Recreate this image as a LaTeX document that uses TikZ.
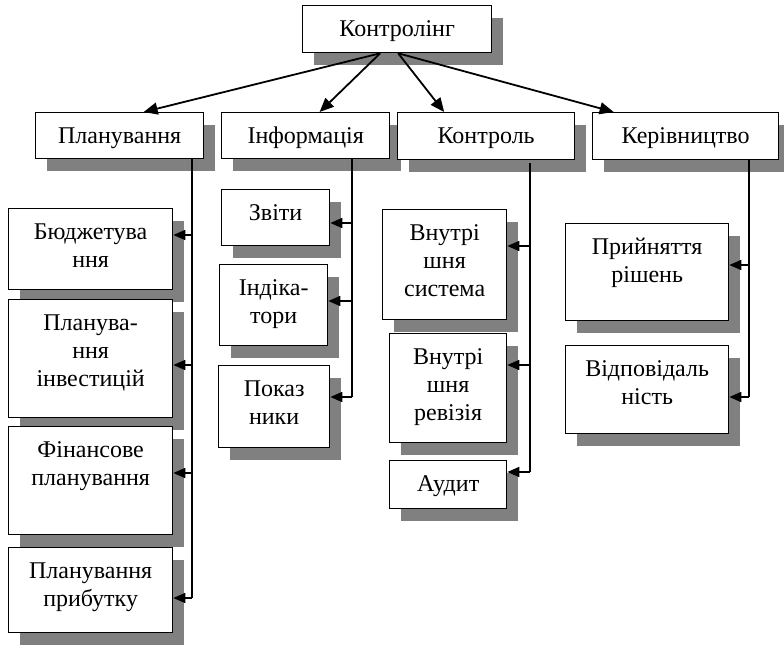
\documentclass[tikz,border=0pt]{standalone}
\usepackage{fontspec}
\setmainfont{Liberation Serif}
\newfontfamily\boxfont{Liberation Serif}
\usetikzlibrary{arrows.meta}
\tikzset{
  boxst/.style={draw=black, line width=1.3pt, fill=white, inner sep=0pt, anchor=north west},
  shadowst/.style={fill=black!50},
  conn/.style={line width=1.6pt},
  arr/.style={line width=1.6pt, -{Triangle[length=12pt,width=10pt]}},
  toparr/.style={line width=1.8pt, -{Triangle[length=14pt,width=12pt]}},
}
\newcommand\mybox[6]{%
  \fill[shadowst] (#2+12,#3+13) rectangle (#4+12,#5+13);
  \node[boxst] (#1) at (#2,#3)
    {\parbox[c][\dimexpr#5pt-#3pt\relax][t]{\dimexpr#4pt-#2pt\relax}{\boxfont\fontsize{24}{28}\selectfont\centering\rule{0pt}{31pt}#6\par}};
}
\begin{document}
\begin{tikzpicture}[x=1pt,y=-1pt]
\useasboundingbox (0,0) rectangle (784,652);
% boxes
\mybox{ctrl}{302}{5}{491}{52}{Контролінг}
\mybox{plan}{35}{112}{203}{158}{Планування}
\mybox{info}{221}{112}{389}{158}{Інформація}
\mybox{kontr}{397}{112}{574}{159}{Контроль}
\mybox{ker}{592}{112}{778}{159}{Керівництво}
\mybox{bud}{8}{208}{172}{289}{Бюджетува\\ння}
\mybox{inv}{8}{299}{172}{417}{Планува-\\ння\\інвестицій}
\mybox{fin}{8}{426}{172}{534}{Фінансове\\планування}
\mybox{prib}{8}{547}{172}{632}{Планування\\прибутку}
\mybox{zvit}{221}{189}{329}{245}{Звіти}
\mybox{ind}{219}{264}{327}{345}{Індіка-\\тори}
\mybox{pok}{218}{365}{329}{447}{Показ\\ники}
\mybox{vsys}{382}{209}{506}{319}{Внутрі\\шня\\система}
\mybox{vrev}{389}{333}{506}{442}{Внутрі\\шня\\ревізія}
\mybox{aud}{389}{460}{506}{508}{Аудит}
\mybox{prij}{565}{223}{728}{320}{Прийняття\\рішень}
\mybox{vidp}{565}{345}{728}{433}{Відповідаль\\ність}
% top arrows
\coordinate (tl) at ([xshift=-17pt]ctrl.south);
\coordinate (tr) at ([xshift=1pt]ctrl.south);
\draw[toparr] (tl) -- ([xshift=24pt]plan.north);
\draw[toparr] (tl) -- ([xshift=14pt]info.north);
\draw[toparr] (tr) -- ([xshift=-42pt]kontr.north);
\draw[toparr] (tr) -- ([xshift=-72pt]ker.north);
% planning bus
\coordinate (pb) at (192,598);
\draw[conn] (plan.south -| pb) -- (pb);
\coordinate (p1) at (192,235);
\coordinate (p2) at (192,365);
\coordinate (p3) at (192,473);
\draw[arr] (p1) -- (p1 -| bud.east);
\draw[arr] (p2) -- (p2 -| inv.east);
\draw[arr] (p3) -- (p3 -| fin.east);
\draw[arr] (pb) -- (pb -| prib.east);
% information bus
\coordinate (ib) at (352,397);
\draw[conn] (info.south -| ib) -- (ib);
\coordinate (i1) at (352,223);
\coordinate (i2) at (352,301);
\draw[arr] (i1) -- (i1 -| zvit.east);
\draw[arr] (i2) -- (i2 -| ind.east);
\draw[arr] (ib) -- (ib -| pok.east);
% control bus
\coordinate (kb) at (530,472);
\draw[conn] ([yshift=-3pt]kontr.south -| kb) -- (kb);
\coordinate (k1) at (530,246);
\coordinate (k2) at (530,365);
\draw[arr] (k1) -- (k1 -| vsys.east);
\draw[arr] (k2) -- (k2 -| vrev.east);
\draw[arr] (kb) -- (kb -| aud.east);
% management bus
\coordinate (mb) at (749,397);
\draw[conn] (ker.south -| mb) -- (mb);
\coordinate (m1) at (749,265);
\draw[arr] (m1) -- (m1 -| prij.east);
\draw[arr] (mb) -- (mb -| vidp.east);
\end{tikzpicture}
\end{document}
